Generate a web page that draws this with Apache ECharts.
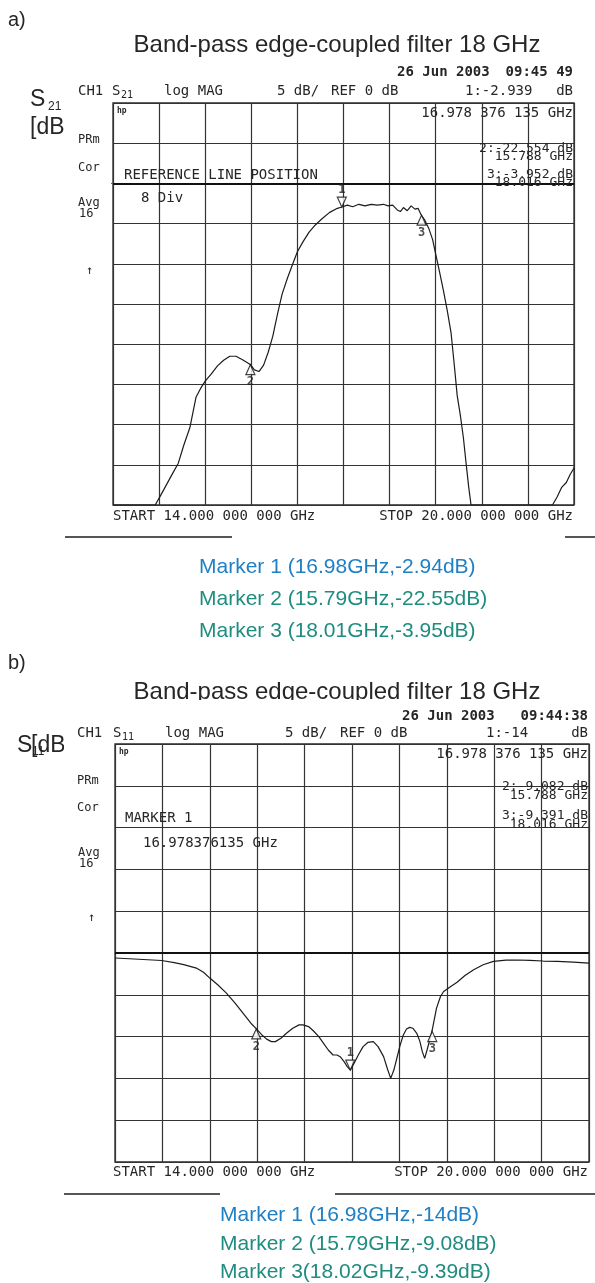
<!DOCTYPE html>
<html><head><meta charset="utf-8">
<script src="https://cdn.jsdelivr.net/npm/echarts@6/dist/echarts.min.js"></script>
<style>html,body{margin:0;padding:0;background:#fff}#c{width:595px;height:1283px}</style>
</head><body><div id="c"></div>
<script>
// ---- data: S21 (panel a) ----
const freqA = [14.00,14.30,14.55,14.62,14.70,14.78,14.85,14.92,15.00,15.04,15.08,15.14,15.20,15.28,15.36,15.44,15.52,15.60,15.68,15.75,15.79,15.84,15.90,15.96,16.02,16.08,16.14,16.20,16.27,16.34,16.40,16.47,16.55,16.63,16.72,16.82,16.92,16.98,17.05,17.12,17.20,17.28,17.36,17.44,17.52,17.58,17.64,17.70,17.74,17.78,17.83,17.88,17.93,17.97,18.01,18.06,18.11,18.16,18.20,18.25,18.30,18.35,18.40,18.44,18.48,18.52,18.56,18.60,18.63,18.66,19.00,19.40,19.72,19.78,19.84,19.90,19.95,20.00];
const s21 = [-40,-40,-40,-38.8,-37.4,-36.0,-34.8,-32.6,-30.4,-28.5,-26.6,-25.5,-24.6,-23.7,-22.7,-22.0,-21.5,-21.5,-21.9,-22.3,-22.55,-23.2,-23.4,-22.6,-21.0,-19.0,-16.3,-13.8,-11.8,-10.0,-8.5,-7.3,-6.1,-5.2,-4.4,-3.6,-3.1,-2.94,-2.7,-2.9,-2.6,-2.8,-2.6,-2.7,-2.6,-2.8,-2.7,-3.3,-3.5,-3.0,-3.4,-2.8,-3.2,-3.1,-3.9,-4.6,-5.6,-7.0,-8.8,-11.0,-13.3,-15.8,-18.6,-22.4,-26.4,-28.8,-31.6,-35.2,-37.8,-40,-40,-40,-40,-39.0,-37.8,-37.2,-36.2,-35.4];
const markerNamesA = ['1','2','3'];
const markerFreqA = [16.978, 15.788, 18.016];
const markerValA = [-2.939, -22.554, -3.952];

// ---- data: S11 (panel b) ----
const freqB = [14.00,14.30,14.59,14.75,14.87,15.03,15.12,15.20,15.30,15.41,15.52,15.62,15.72,15.79,15.86,15.92,15.98,16.03,16.10,16.17,16.25,16.33,16.38,16.45,16.51,16.58,16.64,16.70,16.76,16.81,16.85,16.90,16.94,16.98,17.02,17.08,17.14,17.20,17.27,17.33,17.40,17.45,17.49,17.53,17.57,17.61,17.65,17.69,17.73,17.77,17.82,17.86,17.89,17.92,17.95,17.99,18.02,18.07,18.12,18.16,18.25,18.33,18.43,18.54,18.66,18.79,18.95,19.09,19.25,19.42,19.60,19.80,20.00];
const s11 = [-0.6,-0.75,-0.9,-1.15,-1.4,-1.8,-2.3,-3.0,-3.8,-4.8,-6.0,-7.2,-8.4,-9.08,-9.8,-10.3,-10.6,-10.6,-10.2,-9.6,-9.0,-8.6,-8.6,-8.8,-9.3,-10.0,-10.8,-11.6,-12.2,-12.2,-12.4,-13.0,-13.6,-14.0,-13.3,-12.2,-11.2,-10.7,-10.6,-11.2,-12.4,-13.9,-15.0,-14.0,-12.5,-11.0,-9.8,-9.1,-8.9,-9.0,-9.6,-10.6,-11.8,-12.6,-11.6,-10.2,-9.0,-6.6,-5.2,-4.6,-4.0,-3.5,-2.7,-2.0,-1.4,-1.0,-0.85,-0.84,-0.88,-0.96,-1.0,-1.1,-1.2];
const markerNamesB = ['1','2','3'];
const markerFreqB = [16.978, 15.788, 18.016];
const markerValB = [-14, -9.082, -9.391];

// ---- axes / labels ----
const freqRange = [14, 20];
const rangeA = [-40, 10];
const rangeB = [-25, 25];
const dbPerDiv = 5;
const refLevel = 0;
const titleText = 'Band-pass edge-coupled filter 18 GHz';
const markerTextA = ['Marker 1 (16.98GHz,-2.94dB)','Marker 2 (15.79GHz,-22.55dB)','Marker 3 (18.01GHz,-3.95dB)'];
const markerTextB = ['Marker 1 (16.98GHz,-14dB)','Marker 2 (15.79GHz,-9.08dB)','Marker 3(18.02GHz,-9.39dB)'];

const chart = echarts.init(document.getElementById('c'), null, {renderer:'canvas'});
const MONO = '"DejaVu Sans Mono", "Liberation Mono", monospace';
const SANS = '"Liberation Sans", Arial, sans-serif';
const INK = '#262626';

function T(text, x, y, o) {
  o = o || {};
  return {type:'text', z: o.z || 100, style:{
    text, x, y,
    font: (o.weight||'normal') + ' ' + (o.size||14) + 'px ' + (o.family||MONO),
    fill: o.color || INK,
    textAlign: o.align || 'left',
    textVerticalAlign: 'middle'
  }};
}
function L(x1,y1,x2,y2,w){return {type:'line', z:100, shape:{x1,y1,x2,y2}, style:{stroke:'#1e1e1e', lineWidth:w||1.5}};}

const grids = [
  {left:113, top:103, width:461, height:402},
  {left:115, top:744, width:474, height:418}
];

function pairs(fx, vy){ return fx.map((f,i)=>[f, vy[i]]); }
function markerData(names, fx, vy){
  return names.map((n,i)=>{
    const down = i === 0;
    return {name:n, value:[fx[i], vy[i]], symbolRotate: down ? 180 : 0,
      symbolOffset: down ? [0,-5] : [0,5],
      label:{position: down ? 'top' : 'bottom', distance: 1}};
  });
}

const gridLineStyle = {color:'#333', width:1.2};
const xAxes = [], yAxes = [];
[0,1].forEach(g=>{
  xAxes.push({gridIndex:g, type:'value', min:freqRange[0], max:freqRange[1], show:false});
  xAxes.push({gridIndex:g, type:'value', min:0, max:10, interval:1, axisLine:{show:false}, axisTick:{show:false}, axisLabel:{show:false}, splitLine:{show:true, lineStyle:gridLineStyle}});
});
yAxes.push({gridIndex:0, type:'value', min:rangeA[0], max:rangeA[1], interval:dbPerDiv, axisLine:{show:false}, axisTick:{show:false}, axisLabel:{show:false}, splitLine:{show:true, lineStyle:gridLineStyle}});
yAxes.push({gridIndex:1, type:'value', min:rangeB[0], max:rangeB[1], interval:dbPerDiv, axisLine:{show:false}, axisTick:{show:false}, axisLabel:{show:false}, splitLine:{show:true, lineStyle:gridLineStyle}});

function traceSeries(xi, yi, data){
  return {type:'line', xAxisIndex:xi, yAxisIndex:yi, data, showSymbol:false, symbol:'none',
    lineStyle:{color:'#1c1c1c', width:1.2}, z:5, silent:true,
    markLine:{silent:true, symbol:'none', label:{show:false}, lineStyle:{color:'#111', width:1.8, type:'solid'}, data:[{yAxis:refLevel}]}};
}
function refArrow(xi, yi){
  return {type:'scatter', xAxisIndex:xi, yAxisIndex:yi, data:[[freqRange[0], refLevel]], symbol:'triangle', symbolRotate:-90,
    symbolSize:[6,7], symbolOffset:[-5,0], itemStyle:{color:'#fff', borderColor:'#111', borderWidth:1}, z:6, silent:true};
}
function markerSeries(xi, yi, data){
  return {type:'scatter', xAxisIndex:xi, yAxisIndex:yi, data, symbol:'triangle', symbolSize:[9,10],
    itemStyle:{color:'#fff', borderColor:'#111', borderWidth:1.2}, z:7, silent:true,
    label:{show:true, formatter:p=>p.name, fontFamily:MONO, fontSize:12, fontWeight:'bold', color:'#222'}};
}

const graphics = [
  // clipping strips (scan image edge)
  {type:'rect', z:50, shape:{x:67, y:62, width:44, height:478}, style:{fill:'#fff'}},
  {type:'rect', z:50, shape:{x:64, y:700, width:531, height:43}, style:{fill:'#fff'}},
  {type:'rect', z:50, shape:{x:64, y:700, width:50, height:490}, style:{fill:'#fff'}},
  // panel a outer texts
  T('a)', 8, 20, {family:SANS, size:20, z:10}),
  T(titleText, 337, 45, {family:SANS, size:24, align:'center', z:10}),
  T('S', 30, 100, {family:SANS, size:23, z:10}),
  T('21', 48, 107, {family:SANS, size:12, z:10}),
  T('[dB', 30, 128, {family:SANS, size:23, z:10}),
  // panel a instrument texts
  T('26 Jun 2003', 397, 72, {weight:'bold'}),
  T('09:45 49', 573, 72, {weight:'bold', align:'right'}),
  T('CH1', 78, 91), T('S', 112, 91), T('21', 121, 95, {size:10}),
  T('log MAG', 164, 91), T('5 dB/', 277, 91), T('REF 0 dB', 331, 91),
  T('1:-2.939', 465, 91), T('dB', 573, 91, {align:'right'}),
  T('hp', 117, 111, {size:8, weight:'bold'}),
  T('16.978 376 135 GHz', 573, 113, {align:'right'}),
  T('PRm', 78, 140, {size:12}), T('Cor', 78, 168, {size:12}),
  T('Avg', 78, 203, {size:12}), T('16', 79, 214, {size:12}), T('\u2191', 86, 271, {size:12}),
  T('2:-22.554 dB', 573, 149, {align:'right', size:13}),
  T('15.788 GHz', 573, 157, {align:'right', size:13}),
  T('3:-3.952 dB', 573, 175, {align:'right', size:13}),
  T('18.016 GHz', 573, 183, {align:'right', size:13}),
  T('REFERENCE LINE POSITION', 124, 175),
  T('8 Div', 141, 198),
  T('START 14.000 000 000 GHz', 113, 516),
  T('STOP 20.000 000 000 GHz', 573, 516, {align:'right'}),
  L(65,537,232,537), L(565,537,595,537),
  // panel a marker texts
  T(markerTextA[0], 199, 567, {family:SANS, size:21, color:'#2080c4', z:10}),
  T(markerTextA[1], 199, 599, {family:SANS, size:21, color:'#1f8c80', z:10}),
  T(markerTextA[2], 199, 631, {family:SANS, size:21, color:'#1f8c80', z:10}),
  // panel b outer texts
  T('b)', 8, 663, {family:SANS, size:20, z:10}),
  T(titleText, 337, 692, {family:SANS, size:24, align:'center', z:10}),
  T('S', 17, 746, {family:SANS, size:23, z:10}),
  T('[dB', 31, 746, {family:SANS, size:23, z:10}),
  T('11', 32, 752, {family:SANS, size:12, z:11}),
  // panel b instrument texts
  T('26 Jun 2003', 402, 716, {weight:'bold'}),
  T('09:44:38', 588, 716, {weight:'bold', align:'right'}),
  T('CH1', 77, 733), T('S', 113, 733), T('11', 122, 737, {size:10}),
  T('log MAG', 165, 733), T('5 dB/', 285, 733), T('REF 0 dB', 340, 733),
  T('1:-14', 486, 733), T('dB', 588, 733, {align:'right'}),
  T('hp', 119, 752, {size:8, weight:'bold'}),
  T('16.978 376 135 GHz', 588, 754, {align:'right'}),
  T('PRm', 77, 781, {size:12}), T('Cor', 77, 808, {size:12}),
  T('Avg', 78, 853, {size:12}), T('16', 79, 864, {size:12}), T('\u2191', 88, 918, {size:12}),
  T('2:-9.082 dB', 588, 787, {align:'right', size:13}),
  T('15.788 GHz', 588, 796, {align:'right', size:13}),
  T('3:-9.391 dB', 588, 816, {align:'right', size:13}),
  T('18.016 GHz', 588, 825, {align:'right', size:13}),
  T('MARKER 1', 125, 818),
  T('16.978376135 GHz', 143, 843),
  T('START 14.000 000 000 GHz', 113, 1172),
  T('STOP 20.000 000 000 GHz', 588, 1172, {align:'right'}),
  L(64,1194,220,1194), L(335,1194,595,1194),
  T(markerTextB[0], 220, 1215, {family:SANS, size:21, color:'#2080c4', z:10}),
  T(markerTextB[1], 220, 1244, {family:SANS, size:21, color:'#1f8c80', z:10}),
  T(markerTextB[2], 220, 1272, {family:SANS, size:21, color:'#1f8c80', z:10})
];

chart.setOption({
  animation:false,
  backgroundColor:'#fff',
  grid: grids.map(g=>Object.assign({show:true, borderColor:'#2a2a2a', borderWidth:1.3, backgroundColor:'transparent'}, g)),
  xAxis: xAxes,
  yAxis: yAxes,
  series:[
    traceSeries(0,0,pairs(freqA,s21)),
    refArrow(0,0),
    markerSeries(0,0,markerData(markerNamesA, markerFreqA, markerValA)),
    traceSeries(2,1,pairs(freqB,s11)),
    refArrow(2,1),
    markerSeries(2,1,markerData(markerNamesB, markerFreqB, markerValB))
  ],
  graphic: graphics
});
</script></body></html>
